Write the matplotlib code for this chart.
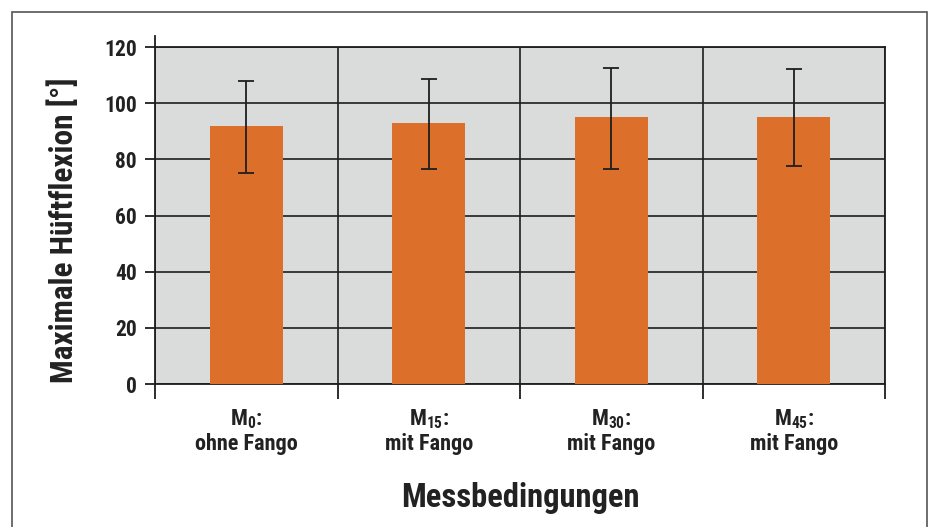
import matplotlib
matplotlib.use("Agg")
import matplotlib.pyplot as plt
from matplotlib.patches import Rectangle

plt.rcParams['font.family'] = ['Roboto Condensed', 'Liberation Sans',
                               'DejaVu Sans']
plt.rcParams['font.weight'] = 'bold'
plt.rcParams['mathtext.default'] = 'regular'

# data
labels = ["M$_{0}$:\nohne Fango", "M$_{15}$:\nmit Fango",
          "M$_{30}$:\nmit Fango", "M$_{45}$:\nmit Fango"]
means = [92, 93, 95, 95]
err_low = [75, 76.5, 76.5, 77.5]
err_high = [108, 108.5, 112.5, 112]

yerr = [[m - lo for m, lo in zip(means, err_low)],
        [hi - m for m, hi in zip(means, err_high)]]

fig = plt.figure(figsize=(9.31, 5.27), dpi=100)
ax = fig.add_axes([0.1665, 0.2713, 0.7841, 0.6395])
ax.set_facecolor("#dadcdb")

x = [i + 0.5 for i in range(len(means))]
ax.bar(x, means, width=0.4, color="#dc6f2a", zorder=3)
ax.errorbar(x, means, yerr=yerr, fmt="none", ecolor="#1e1e1e",
            elinewidth=1.3, capsize=6, capthick=1.3, zorder=4)

ax.set_xlim(0, 4)
ax.set_ylim(0, 120)
ax.set_yticks(range(0, 121, 20))
ax.set_xticks(x)
ax.set_xticklabels(labels, fontsize=16, color="#222222", linespacing=1.1)
ax.set_xticks(range(0, 5), minor=True)
ax.tick_params(axis="x", which="major", length=0, pad=17)
ax.tick_params(axis="x", which="minor", length=11, width=1.3,
               color="#1e1e1e", direction="out")
ax.tick_params(axis="y", length=7, width=1.3, color="#1e1e1e",
               labelsize=15.5, labelcolor="#222222", pad=6)
for t in ax.get_yticklabels():
    t.set_fontweight("bold")

ax.grid(axis="y", which="major", color="#1e1e1e", linewidth=1.2, zorder=1)
ax.grid(axis="x", which="minor", color="#1e1e1e", linewidth=1.2, zorder=1)
ax.set_axisbelow(True)
for s in ax.spines.values():
    s.set_color("#1e1e1e")
    s.set_linewidth(1.3)
ax.plot([0, 0], [120, 124], color="#1e1e1e", lw=1.3, clip_on=False)

ax.set_ylabel("Maximale Hüftflexion [°]", fontsize=22.5, fontweight="bold",
              color="#222222")
ax.yaxis.set_label_coords(-0.104, 0.457)
ax.set_xlabel("Messbedingungen", fontsize=23.5, fontweight="bold",
              color="#222222")
ax.xaxis.set_label_coords(0.5, -0.29)

fig.patches.append(Rectangle((12 / 931, -0.05), 915 / 931, 1.05 - 12 / 527,
                             transform=fig.transFigure, fill=False,
                             edgecolor="#555555", linewidth=1.2))

fig.savefig("out.png", dpi=100)
